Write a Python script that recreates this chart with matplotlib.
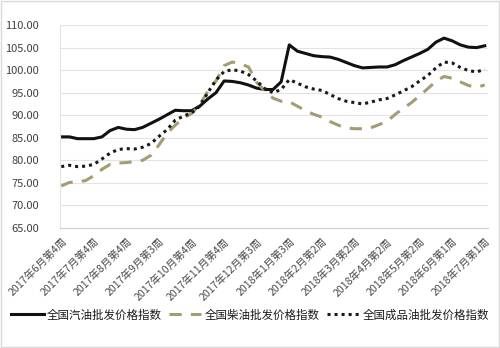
import matplotlib.pyplot as plt
from matplotlib.patches import Rectangle

plt.rcParams['font.family'] = ['Noto Sans CJK SC', 'DejaVu Sans']

# weekly index values, 2017-06 wk4 .. 2018-07 wk1
gasoline = [85.2, 85.2, 84.8, 84.8, 84.8, 85.2, 86.6, 87.3, 86.9, 86.8,
            87.3, 88.2, 89.1, 90.1, 91.1, 91.0, 91.0, 92.0, 93.6, 95.0,
            97.6, 97.5, 97.2, 96.7, 96.0, 95.7, 95.7, 97.4, 105.6, 104.2,
            103.7, 103.2, 103.0, 102.9, 102.4, 101.7, 101.0, 100.5, 100.6, 100.7,
            100.7, 101.2, 102.1, 102.9, 103.7, 104.6, 106.2, 107.1, 106.5, 105.6,
            105.1, 105.0, 105.4]
diesel = [74.3, 75.1, 75.2, 75.5, 76.6, 78.0, 79.1, 79.4, 79.5, 79.7,
          80.0, 81.1, 83.4, 86.0, 87.8, 89.3, 90.4, 92.3, 95.3, 97.6,
          101.0, 101.8, 101.4, 100.7, 97.3, 95.4, 93.8, 93.1, 93.0, 92.0,
          91.0, 90.2, 89.6, 88.6, 87.8, 87.2, 87.0, 87.0, 87.2, 87.9,
          88.6, 90.2, 91.5, 92.8, 94.3, 95.9, 97.5, 98.6, 98.2, 97.4,
          96.6, 96.2, 96.7]
products = [78.6, 78.9, 78.6, 78.7, 79.1, 80.3, 81.6, 82.4, 82.6, 82.5,
            82.9, 83.7, 85.3, 86.8, 88.9, 89.8, 90.5, 92.0, 95.0, 97.8,
            99.7, 100.1, 99.8, 99.0, 97.6, 95.9, 95.0, 95.7, 97.9, 97.1,
            96.3, 95.8, 95.5, 94.6, 93.7, 93.1, 92.8, 92.5, 92.9, 93.4,
            93.7, 94.5, 95.4, 96.3, 97.6, 98.8, 100.5, 101.8, 101.6, 100.6,
            99.9, 99.6, 100.2]

week_labels = ['2017年6月第4周', '2017年7月第4周', '2017年8月第4周', '2017年9月第3周',
               '2017年10月第4周', '2017年11月第4周', '2017年12月第3周', '2018年1月第3周',
               '2018年2月第2周', '2018年3月第2周', '2018年4月第2周', '2018年5月第2周',
               '2018年6月第1周', '2018年7月第1周']
label_step = 4
series_names = ['全国汽油批发价格指数', '全国柴油批发价格指数', '全国成品油批发价格指数']
yticks = [65, 70, 75, 80, 85, 90, 95, 100, 105, 110]

fig = plt.figure(figsize=(5, 3.48), dpi=100)
ax = fig.add_axes([0.12, 0.345, 0.856, 0.583])

x = list(range(len(gasoline)))
ax.plot(x, gasoline, color='#111111', lw=2.2, solid_joinstyle='round', label=series_names[0])
ax.plot(x, diesel, color='#a49c72', lw=2.2, linestyle=(0, (4, 3)), label=series_names[1])
ax.plot(x, products, color='#1a1a1a', lw=2.2, linestyle=(0, (1, 1.3)), label=series_names[2])

ax.set_xlim(-0.15, len(x) - 0.6)
ax.set_ylim(65, 110)
ax.set_yticks(yticks)
ax.set_yticklabels([f'{v:.2f}' for v in yticks], fontsize=8, color='#404040')
ax.yaxis.grid(True, color='#e3e3e3', lw=0.8)
ax.set_axisbelow(True)

ax.set_xticks(range(0, len(x), label_step))
ax.set_xticklabels(week_labels, rotation=45, ha='right', rotation_mode='anchor',
                   fontsize=7.6, color='#4a4a4a', fontweight='medium')
ax.tick_params(axis='y', length=0, pad=15)
ax.tick_params(axis='x', length=0, pad=6)

for s in ['top', 'right']:
    ax.spines[s].set_visible(False)
ax.spines['left'].set_color('#e3e3e3')
ax.spines['bottom'].set_color('#d0d0d0')

fig.legend(loc='center', bbox_to_anchor=(0.5, 0.095), ncol=3, frameon=False,
           prop={'size': 8.3, 'weight': 'medium'}, handlelength=2.8,
           columnspacing=0.6, handletextpad=0.3, labelcolor='#1a1a1a')

fig.patches.append(Rectangle((0.002, 0.003), 0.995, 0.994, transform=fig.transFigure,
                             fill=False, edgecolor='#d9d9d9', lw=1))

fig.savefig('out.png', dpi=100)
